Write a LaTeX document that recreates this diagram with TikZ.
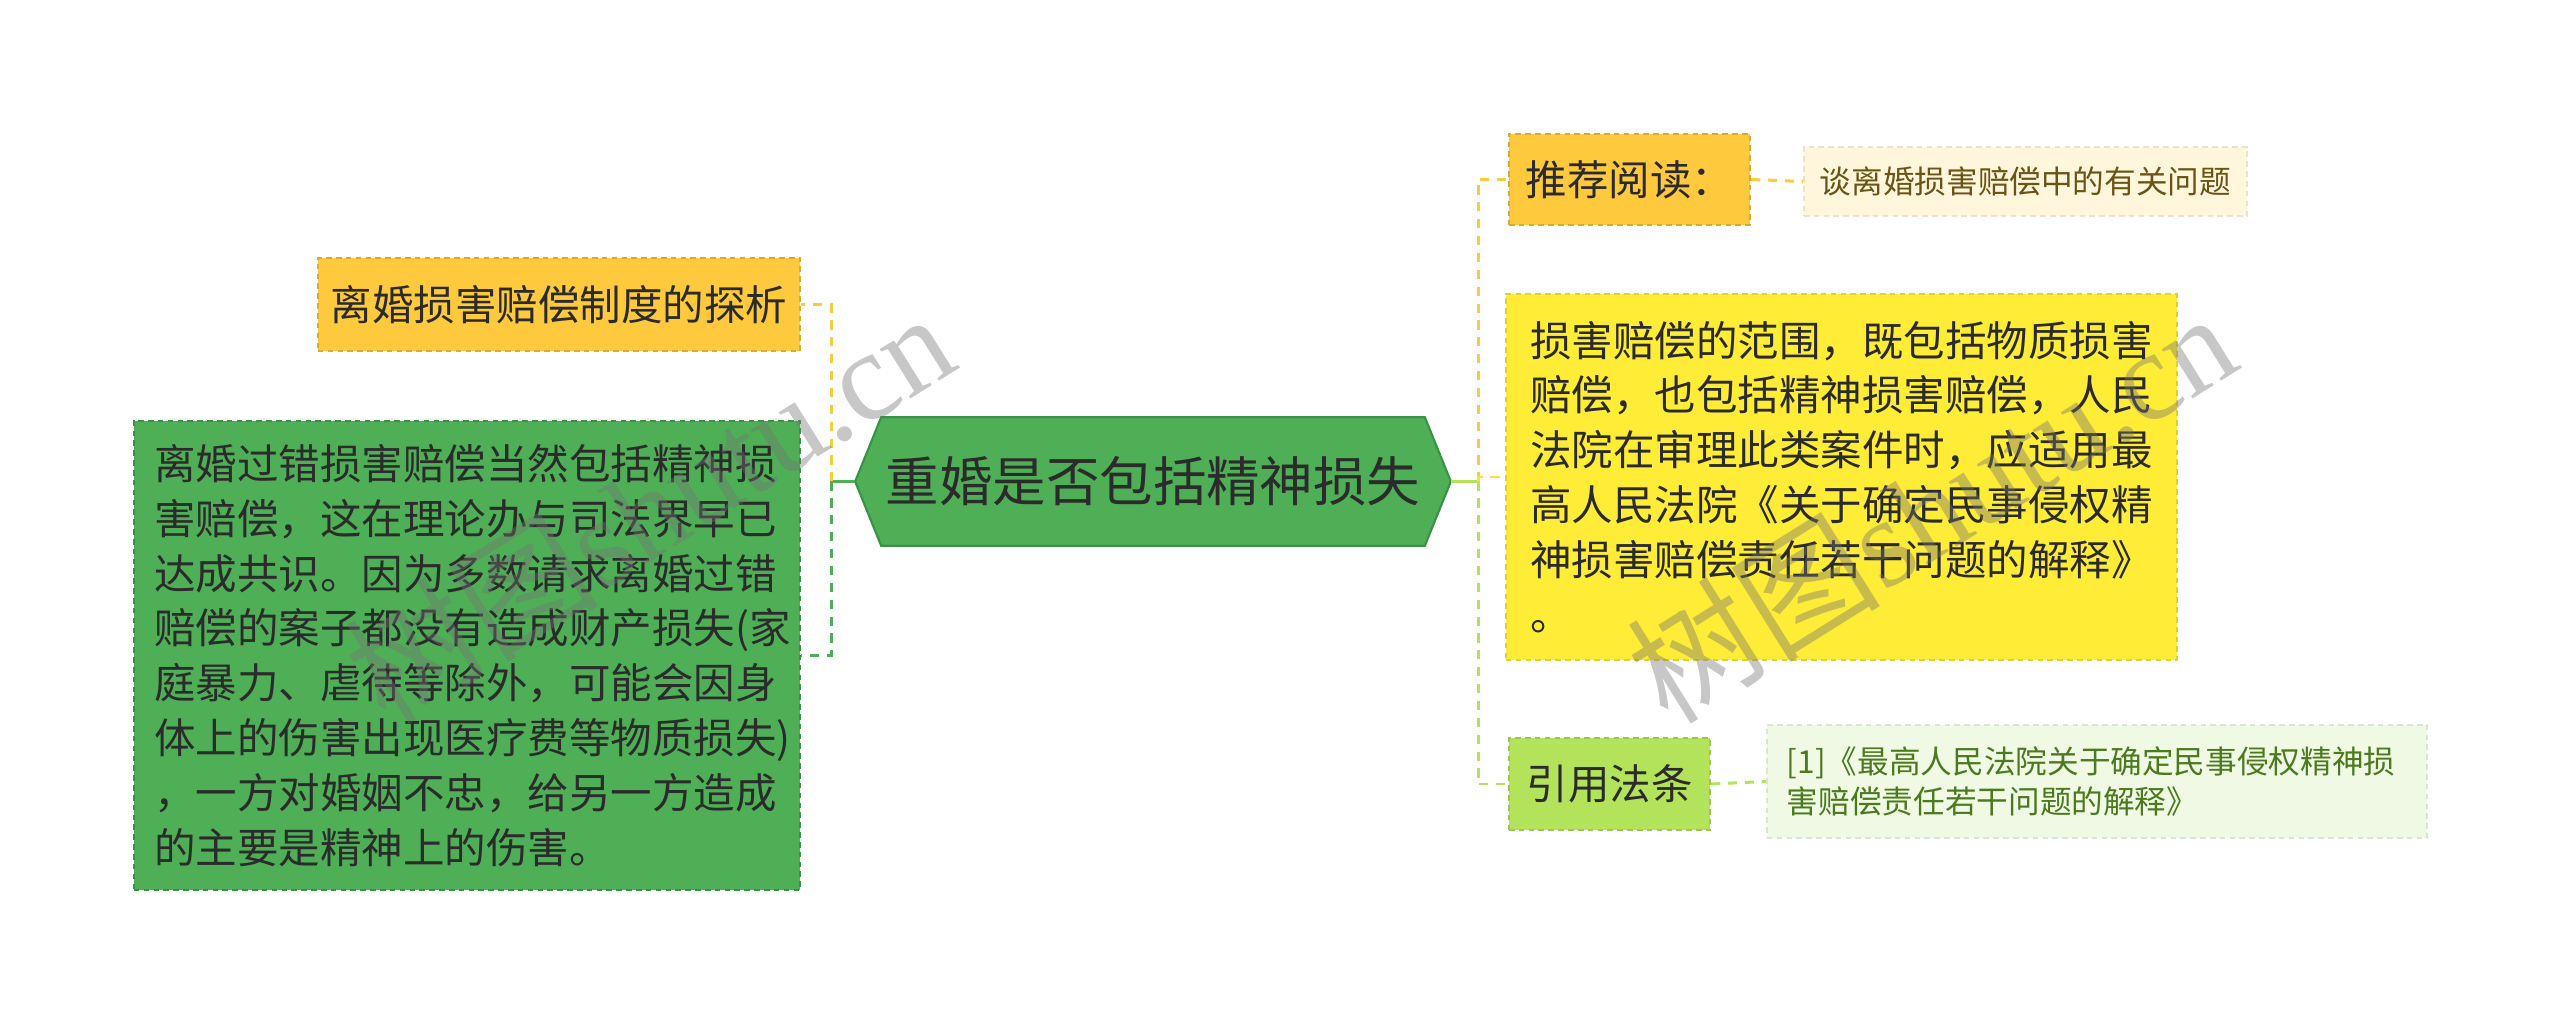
\documentclass[tikz,border=0pt]{standalone}
\usepackage{fontspec}
\setmainfont{Noto Sans CJK SC}
\newfontfamily\wmfont{Liberation Serif}
\usetikzlibrary{calc,backgrounds}

\definecolor{rootgreen}{HTML}{4FAF57}
\definecolor{rootedge}{HTML}{3A9244}
\definecolor{orangefill}{HTML}{FFC93D}
\definecolor{yellowfill}{HTML}{FFEC36}
\definecolor{limefill}{HTML}{B3E25B}
\definecolor{creamfill}{HTML}{FFF6DB}
\definecolor{palegreen}{HTML}{EFF9E3}
\definecolor{browntext}{HTML}{6B5416}
\definecolor{greentext}{HTML}{4C7A1E}
\definecolor{inktext}{HTML}{2B2B2B}

\tikzset{
  topic/.style={rectangle, inner sep=0pt, text=inktext, align=left,
    font=\fontsize{11.8}{15.6}\selectfont, dash pattern=on 1.6pt off 1.2pt, line width=0.6pt},
  note/.style={rectangle, inner sep=0pt, align=left,
    font=\fontsize{9}{11.6}\selectfont, dash pattern=on 1.6pt off 1.2pt, line width=0.5pt},
  link/.style={line width=0.85pt, dash pattern=on 2.6pt off 2.2pt},
  stub/.style={line width=0.85pt},
  wmark/.style={text=black!55, text opacity=0.4, rotate=32}
}

\begin{document}
\begin{tikzpicture}[x=0.01cm, y=-0.01cm]
\useasboundingbox (0,0) rectangle (2560,1025);

% Central topic
\node[text=inktext, font=\fontsize{15.2}{18}\selectfont, minimum width=5.42cm, minimum height=1.27cm, inner sep=0pt] (root) at (1153,481.5) {重婚是否包括精神损失};
\coordinate (rootL) at ($(root.west)+(-26,0)$);
\coordinate (rootR) at ($(root.east)+(26,0)$);
\begin{scope}[on background layer]
\draw[fill=rootgreen, draw=rootedge, line width=0.6pt] (root.north west) -- (root.north east) -- (rootR) -- (root.south east) -- (root.south west) -- (rootL) -- cycle;
\end{scope}

% Left branches
\node[topic, fill=orangefill, draw=orangefill!85!black, minimum width=4.82cm, minimum height=0.93cm] (probe) at (559,304.5) {离婚损害赔偿制度的探析};
\node[topic, fill=rootgreen, draw=rootedge, text width=6.25cm, minimum width=6.66cm, minimum height=4.69cm] (reason) at (467,655.5) {离婚过错损害赔偿当然包括精神损\\害赔偿，这在理论办与司法界早已\\达成共识。因为多数请求离婚过错\\赔偿的案子都没有造成财产损失(家\\庭暴力、虐待等除外，可能会因身\\体上的伤害出现医疗费等物质损失)\\，一方对婚姻不忠，给另一方造成\\的主要是精神上的伤害。};

% Right branches
\node[topic, fill=orangefill, draw=orangefill!85!black, minimum width=2.41cm, minimum height=0.91cm] (read) at (1629.5,179.5) {推荐阅读：};
\node[note, text=browntext, fill=creamfill, draw=creamfill!92!black, minimum width=4.43cm, minimum height=0.69cm] (readnote) at (2025.5,181.5) {谈离婚损害赔偿中的有关问题};
\node[topic, fill=yellowfill, draw=yellowfill!88!black, text width=6.22cm, minimum width=6.71cm, minimum height=3.66cm] (range) at (1841.5,477) {损害赔偿的范围，既包括物质损害\\赔偿，也包括精神损害赔偿，人民\\法院在审理此类案件时，应适用最\\高人民法院《关于确定民事侵权精\\神损害赔偿责任若干问题的解释》\\。};
\node[topic, fill=limefill, draw=limefill!88!black, minimum width=2.01cm, minimum height=0.92cm] (cite) at (1609.5,784) {引用法条};
\node[note, text=greentext, fill=palegreen, draw=palegreen!92!black, text width=6.2cm, minimum width=6.6cm, minimum height=1.13cm] (citenote) at (2097,781.5) {[1]《最高人民法院关于确定民事侵权精神损\\害赔偿责任若干问题的解释》};

% Connectors
\coordinate (hubL) at (831,481.5);
\coordinate (hubR) at (1478,481.5);
\draw[stub, rootgreen] (rootL) -- (hubL);
\draw[stub, limefill] (rootR) -- (hubR);
\draw[link, orangefill] (hubL) |- (probe.east);
\draw[link, rootgreen] (hubL) |- (reason.east);
\draw[link, orangefill] (hubR) |- (read.west);
\draw[link, yellowfill!90!orange] (hubR) |- (range.west);
\draw[link, limefill] (hubR) |- (cite.west);
\draw[link, orangefill] (read.east) -- (readnote.west);
\draw[link, limefill] (cite.east) -- (citenote.west);

% Watermarks
\node[wmark, font=\fontsize{36}{40}\selectfont] (wm1) at (649,506) {树图{\wmfont shutu.cn}};
\node[wmark, font=\fontsize{36}{40}\selectfont] (wm2) at (1931,506) {树图{\wmfont shutu.cn}};
\end{tikzpicture}
\end{document}
